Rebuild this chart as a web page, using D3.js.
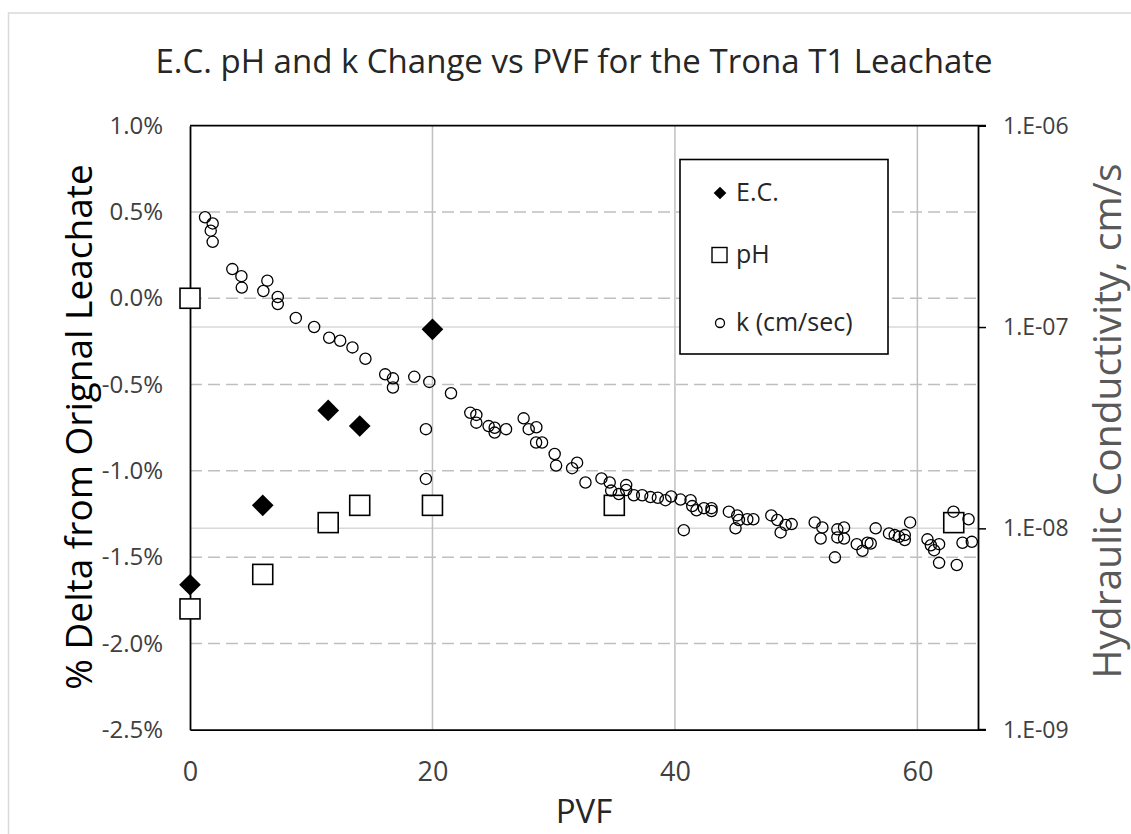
<!DOCTYPE html>
<html>
<head>
<meta charset="utf-8">
<script src="https://cdn.jsdelivr.net/npm/d3@7"></script>
<style>
  body { margin: 0; background: #fff; }
  svg text { font-family: "Open Sans", sans-serif; }
</style>
</head>
<body>
<script>
// E.C. and pH (% change from original leachate)
var ecPvf = [0, 6, 11.4, 14, 20];
var ecDelta = [-1.66, -1.2, -0.65, -0.74, -0.18];
var phPvf = [0, 0, 6, 11.4, 14, 20, 35, 63];
var phDelta = [0.0, -1.8, -1.6, -1.3, -1.2, -1.2, -1.2, -1.3];

// hydraulic conductivity, cm/s (right axis)
var kPvf = [1.24, 1.87, 1.71, 1.87, 3.49, 4.24, 4.27, 6.38, 6.05, 7.24, 7.24, 8.73, 10.24, 11.48, 12.39, 13.40, 14.47,
  16.10, 16.74, 16.74, 18.50, 19.74, 21.53, 19.46, 19.46, 23.12, 23.62, 23.62, 24.63, 25.13, 25.13, 26.07, 27.52,
  27.94, 28.57, 28.55, 29.04, 30.08, 30.20, 31.52, 31.93, 32.62, 33.94, 34.62, 34.74, 35.37, 35.98, 35.98, 36.61,
  37.30, 37.98, 38.59, 39.22, 39.69, 40.46, 41.29, 41.43, 41.78, 40.73, 42.39, 43.02, 43.02, 44.45, 45.14, 45.28,
  45.00, 45.97, 46.47, 47.95, 48.45, 48.72, 49.13, 49.63, 51.53, 52.16, 52.02, 53.40, 53.95, 53.40, 53.95, 53.20,
  55.00, 55.47, 55.88, 56.15, 56.56, 57.66, 58.13, 58.49, 58.96, 58.96, 59.40, 60.83, 61.11, 61.38, 61.79, 61.79,
  62.98, 64.22, 63.25, 63.72, 64.49];
var kVals = [3.51e-7, 3.27e-7, 3.01e-7, 2.65e-7, 1.94e-7, 1.79e-7, 1.57e-7, 1.70e-7, 1.51e-7, 1.41e-7, 1.30e-7, 1.11e-7,
  1.00e-7, 8.85e-8, 8.55e-8, 7.92e-8, 6.96e-8, 5.82e-8, 5.56e-8, 5.01e-8, 5.66e-8, 5.34e-8, 4.69e-8, 3.11e-8, 1.76e-8,
  3.75e-8, 3.66e-8, 3.35e-8, 3.22e-8, 3.16e-8, 2.99e-8, 3.11e-8, 3.52e-8, 3.11e-8, 3.18e-8, 2.67e-8, 2.67e-8, 2.34e-8,
  2.05e-8, 1.99e-8, 2.12e-8, 1.69e-8, 1.77e-8, 1.69e-8, 1.54e-8, 1.48e-8, 1.64e-8, 1.55e-8, 1.46e-8, 1.46e-8, 1.43e-8,
  1.42e-8, 1.38e-8, 1.44e-8, 1.39e-8, 1.38e-8, 1.29e-8, 1.23e-8, 9.8e-9, 1.26e-8, 1.26e-8, 1.22e-8, 1.21e-8, 1.16e-8,
  1.10e-8, 1.00e-8, 1.11e-8, 1.11e-8, 1.16e-8, 1.10e-8, 9.55e-9, 1.04e-8, 1.05e-8, 1.07e-8, 1.01e-8, 8.91e-9, 9.89e-9,
  1.01e-8, 9.02e-9, 8.91e-9, 7.18e-9, 8.35e-9, 7.74e-9, 8.48e-9, 8.41e-9, 1.00e-8, 9.44e-9, 9.26e-9, 9.08e-9, 9.26e-9,
  8.75e-9, 1.07e-8, 8.82e-9, 8.24e-9, 7.79e-9, 8.35e-9, 6.74e-9, 1.21e-8, 1.11e-8, 6.58e-9, 8.48e-9, 8.57e-9];

var xTicks = [0, 20, 40, 60];
var yTicks = [-2.5, -2.0, -1.5, -1.0, -0.5, 0.0, 0.5, 1.0];
var kTicks = [1e-9, 1e-8, 1e-7, 1e-6];
var kTickLabels = ["1.E-09", "1.E-08", "1.E-07", "1.E-06"];
var legendNames = ["E.C.", "pH", "k (cm/sec)"];

var width = 1131, height = 834;
// note: "top" is taken by window.top, so plot edges get their own names
var plotL = 190, plotR = 978, plotT = 125.7, plotB = 729.7;

var svg = d3.select("body").append("svg").attr("width", width).attr("height", height);

// outer chart border
svg.append("rect").attr("x", 8.5).attr("y", 13).attr("width", 1140).attr("height", 840)
  .attr("fill", "none").attr("stroke", "#d9d9d9").attr("stroke-width", 1.5);

var x = d3.scaleLinear().domain([0, 65]).range([plotL, plotR]);
var y = d3.scaleLinear().domain([-2.5, 1.0]).range([plotB, plotT]);
var yk = d3.scaleLog().domain([1e-9, 1e-6]).range([plotB, plotT]);

// secondary (log) gridlines - light solid
svg.selectAll(".kgrid").data(kTicks.slice(1, 3)).enter().append("line")
  .attr("x1", plotL).attr("x2", plotR)
  .attr("y1", function (d) { return yk(d); }).attr("y2", function (d) { return yk(d); })
  .attr("stroke", "#d9d9d9").attr("stroke-width", 1.5);

// primary gridlines - dashed
svg.selectAll(".ygrid").data(yTicks.slice(1, -1)).enter().append("line")
  .attr("x1", plotL).attr("x2", plotR)
  .attr("y1", function (d) { return y(d); }).attr("y2", function (d) { return y(d); })
  .attr("stroke", "#bfbfbf").attr("stroke-width", 1.5).attr("stroke-dasharray", "12,6");

// vertical gridlines
svg.selectAll(".xgrid").data(xTicks.slice(1)).enter().append("line")
  .attr("y1", plotT).attr("y2", plotB)
  .attr("x1", function (d) { return x(d); }).attr("x2", function (d) { return x(d); })
  .attr("stroke", "#bfbfbf").attr("stroke-width", 1.5);

// axes
var xAxis = svg.append("g").attr("transform", "translate(0," + plotB + ")")
  .call(d3.axisBottom(x).tickValues(xTicks).tickSize(0).tickPadding(32).tickFormat(d3.format("d")));
var yAxis = svg.append("g").attr("transform", "translate(" + plotL + ",0)")
  .call(d3.axisLeft(y).tickValues(yTicks).tickSize(0).tickPadding(27).tickFormat(function (d) { return d.toFixed(1) + "%"; }));
var kAxis = svg.append("g").attr("transform", "translate(" + plotR + ",0)")
  .call(d3.axisRight(yk).tickValues(kTicks).tickSize(8).tickPadding(17).tickFormat(function (d, i) { return kTickLabels[i]; }));

xAxis.selectAll("text").attr("font-size", 27).attr("fill", "#404040");
yAxis.selectAll("text").attr("font-size", 24).attr("fill", "#404040");
kAxis.selectAll("text").attr("font-size", 23).attr("fill", "#404040");
[xAxis, yAxis, kAxis].forEach(function (a) {
  a.select(".domain").attr("stroke", "#000").attr("stroke-width", 1.8);
  a.selectAll(".tick line").attr("stroke", "#000").attr("stroke-width", 1.5);
});
// top and bottom border of plot area (with the right tick stubs)
svg.append("line").attr("x1", plotL).attr("x2", plotR + 8).attr("y1", plotT).attr("y2", plotT)
  .attr("stroke", "#000").attr("stroke-width", 1.8);
svg.append("line").attr("x1", plotR).attr("x2", plotR + 8).attr("y1", plotB).attr("y2", plotB)
  .attr("stroke", "#000").attr("stroke-width", 1.8);

// titles
svg.append("text").attr("x", 574).attr("y", 73).attr("text-anchor", "middle")
  .attr("font-size", 33).attr("fill", "#262626").text("E.C. pH and k Change vs PVF for the Trona T1 Leachate");
svg.append("text").attr("x", 584).attr("y", 823).attr("text-anchor", "middle")
  .attr("font-size", 33).attr("fill", "#262626").text("PVF");
svg.append("text").attr("transform", "translate(92,427) rotate(-90)").attr("text-anchor", "middle")
  .attr("font-size", 37).attr("fill", "#000").text("% Delta from Orignal Leachate");
svg.append("text").attr("transform", "translate(1121,421) rotate(-90)").attr("text-anchor", "middle")
  .attr("font-size", 39).attr("fill", "#595959").text("Hydraulic Conductivity, cm/s");

// E.C. points
svg.selectAll(".ec").data(ecPvf).enter().append("path")
  .attr("d", d3.symbol().type(d3.symbolSquare).size(235))
  .attr("transform", function (d, i) { return "translate(" + x(d) + "," + y(ecDelta[i]) + ") rotate(45)"; })
  .attr("fill", "#000");

// pH points
svg.selectAll(".ph").data(phPvf).enter().append("rect")
  .attr("x", function (d) { return x(d) - 10; })
  .attr("y", function (d, i) { return y(phDelta[i]) - 10; })
  .attr("width", 20).attr("height", 20)
  .attr("fill", "#fff").attr("stroke", "#000").attr("stroke-width", 1.6);

// k points
svg.selectAll(".k").data(kPvf).enter().append("circle")
  .attr("cx", function (d) { return x(d); })
  .attr("cy", function (d, i) { return yk(kVals[i]); })
  .attr("r", 5.6)
  .attr("fill", "none").attr("stroke", "#000").attr("stroke-width", 1.3);

// legend
var lg = svg.append("g");
lg.append("rect").attr("x", 680).attr("y", 159.5).attr("width", 208).attr("height", 194.5)
  .attr("fill", "#fff").attr("stroke", "#000").attr("stroke-width", 1.6);
var legendY = [193, 255, 323];
lg.append("path").attr("d", d3.symbol().type(d3.symbolSquare).size(80))
  .attr("transform", "translate(720," + legendY[0] + ") rotate(45)").attr("fill", "#000");
lg.append("rect").attr("x", 712).attr("y", legendY[1] - 7.5).attr("width", 15).attr("height", 15)
  .attr("fill", "#fff").attr("stroke", "#000").attr("stroke-width", 1.4);
lg.append("circle").attr("cx", 720).attr("cy", legendY[2]).attr("r", 4.5)
  .attr("fill", "none").attr("stroke", "#000").attr("stroke-width", 1.3);
lg.selectAll(".lt").data(legendNames).enter().append("text")
  .attr("x", 736).attr("y", function (d, i) { return legendY[i] + 8; })
  .attr("font-size", 25).attr("fill", "#262626").text(function (d) { return d; });
</script>
</body>
</html>
